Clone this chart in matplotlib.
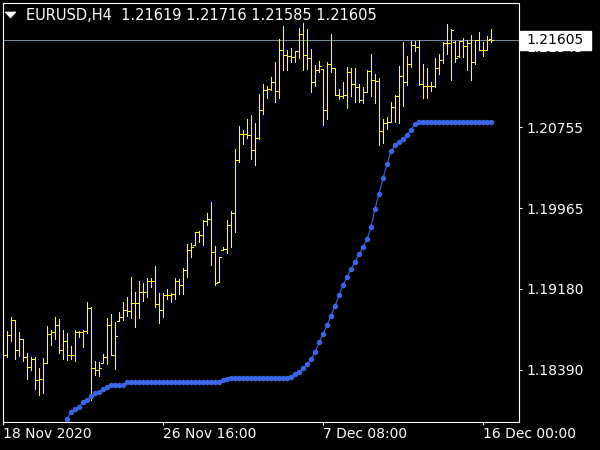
import numpy as np
import matplotlib
matplotlib.use("Agg")
import matplotlib.pyplot as plt
from matplotlib.patches import Rectangle, Polygon

symbol = "EURUSD,H4"

bar_open = [
    1.18585, 1.18536, 1.18731, 1.18877, 1.18585, 1.18692, 1.18517, 1.18419, 1.18497, 1.18292,
    1.18302, 1.18458, 1.18741, 1.18760, 1.18828, 1.18585, 1.18672, 1.18536, 1.18536, 1.18760,
    1.18760, 1.18770, 1.18994, 1.18409, 1.18390, 1.18460, 1.18517, 1.18828, 1.18536, 1.18870,
    1.18906, 1.18974, 1.18965, 1.19043, 1.19043, 1.19150, 1.19150, 1.19257, 1.19257, 1.19033,
    1.18974, 1.19120, 1.19120, 1.19130, 1.19257, 1.19218, 1.19364, 1.19559, 1.19610, 1.19735,
    1.19705, 1.19842, 1.19862, 1.19540, 1.19250, 1.19560, 1.19569, 1.19803, 1.19920, 1.20436,
    1.20690, 1.20690, 1.20680, 1.20534, 1.20651, 1.20923, 1.21118, 1.21128, 1.21196, 1.21108,
    1.21508, 1.21459, 1.21450, 1.21440, 1.21498, 1.21664, 1.21459, 1.21430, 1.21196, 1.21313,
    1.21320, 1.20923, 1.21372, 1.21333, 1.21069, 1.21060, 1.21069, 1.21294, 1.21177, 1.21148,
    1.21021, 1.21099, 1.21304, 1.21216, 1.21206, 1.20719, 1.20797, 1.20806, 1.20953, 1.21060,
    1.21255, 1.21196, 1.21372, 1.21557, 1.21537, 1.21177, 1.21157, 1.21157, 1.21157, 1.21333,
    1.21411, 1.21576, 1.21576, 1.21590, 1.21445, 1.21596, 1.21547, 1.21576, 1.21391, 1.21606,
    1.21508, 1.21508, 1.21619]

bar_high = [
    1.18653, 1.18770, 1.18906, 1.18877, 1.18760, 1.18692, 1.18556, 1.18517, 1.18517, 1.18409,
    1.18507, 1.18819, 1.18780, 1.18906, 1.18887, 1.18780, 1.18750, 1.18624, 1.18780, 1.18770,
    1.18780, 1.19052, 1.19004, 1.18478, 1.18468, 1.18546, 1.18897, 1.18936, 1.18858, 1.18955,
    1.19052, 1.19101, 1.19296, 1.19150, 1.19257, 1.19238, 1.19286, 1.19286, 1.19403, 1.19140,
    1.19140, 1.19179, 1.19140, 1.19286, 1.19277, 1.19384, 1.19618, 1.19627, 1.19735, 1.19744,
    1.19852, 1.19920, 1.20027, 1.19598, 1.19491, 1.19588, 1.19852, 1.19940, 1.20544, 1.20768,
    1.20728, 1.20836, 1.20875, 1.20797, 1.21079, 1.21177, 1.21157, 1.21245, 1.21391, 1.21615,
    1.21742, 1.21508, 1.21528, 1.21498, 1.21723, 1.21771, 1.21713, 1.21518, 1.21362, 1.21401,
    1.21323, 1.21391, 1.21664, 1.21333, 1.21128, 1.21196, 1.21343, 1.21333, 1.21333, 1.21177,
    1.21148, 1.21313, 1.21469, 1.21274, 1.21235, 1.20836, 1.20855, 1.21001, 1.21069, 1.21352,
    1.21586, 1.21450, 1.21596, 1.21596, 1.21606, 1.21372, 1.21333, 1.21196, 1.21430, 1.21469,
    1.21586, 1.21762, 1.21713, 1.21596, 1.21596, 1.21625, 1.21606, 1.21654, 1.21606, 1.21684,
    1.21586, 1.21645, 1.21716]

bar_low = [
    1.18497, 1.18517, 1.18672, 1.18497, 1.18526, 1.18478, 1.18302, 1.18390, 1.18205, 1.18146,
    1.18166, 1.18458, 1.18633, 1.18692, 1.18556, 1.18497, 1.18487, 1.18497, 1.18478, 1.18711,
    1.18614, 1.18750, 1.18097, 1.18341, 1.18331, 1.18458, 1.18448, 1.18536, 1.18400, 1.18867,
    1.18877, 1.18916, 1.18897, 1.18809, 1.18897, 1.19062, 1.19101, 1.19199, 1.19004, 1.18848,
    1.18906, 1.19081, 1.19052, 1.19081, 1.19130, 1.19130, 1.19296, 1.19491, 1.19608, 1.19637,
    1.19608, 1.19803, 1.19413, 1.19218, 1.19247, 1.19559, 1.19530, 1.19588, 1.19735, 1.20417,
    1.20592, 1.20651, 1.20446, 1.20388, 1.20641, 1.20885, 1.21040, 1.21118, 1.21001, 1.21040,
    1.21313, 1.21313, 1.21391, 1.21391, 1.21430, 1.21313, 1.21323, 1.21099, 1.21157, 1.21294,
    1.20777, 1.20836, 1.21294, 1.21069, 1.21031, 1.21040, 1.20943, 1.21060, 1.21001, 1.21001,
    1.20992, 1.21099, 1.21060, 1.20992, 1.20582, 1.20602, 1.20738, 1.20806, 1.20806, 1.20797,
    1.20962, 1.21167, 1.21343, 1.21498, 1.21167, 1.21040, 1.21040, 1.21108, 1.21148, 1.21274,
    1.21382, 1.21469, 1.21216, 1.21391, 1.21440, 1.21440, 1.21313, 1.21216, 1.21372, 1.21508,
    1.21450, 1.21508, 1.21585]

bar_close = [
    1.18536, 1.18731, 1.18877, 1.18585, 1.18692, 1.18517, 1.18419, 1.18497, 1.18292, 1.18302,
    1.18458, 1.18741, 1.18760, 1.18828, 1.18585, 1.18672, 1.18536, 1.18536, 1.18760, 1.18760,
    1.18770, 1.18994, 1.18409, 1.18390, 1.18409, 1.18517, 1.18828, 1.18536, 1.18721, 1.18906,
    1.18974, 1.18965, 1.19043, 1.19043, 1.19150, 1.19150, 1.19257, 1.19257, 1.19033, 1.18974,
    1.19120, 1.19120, 1.19130, 1.19257, 1.19218, 1.19364, 1.19559, 1.19588, 1.19735, 1.19705,
    1.19842, 1.19862, 1.19540, 1.19238, 1.19491, 1.19569, 1.19803, 1.19920, 1.20436, 1.20690,
    1.20690, 1.20680, 1.20534, 1.20651, 1.20923, 1.21118, 1.21128, 1.21196, 1.21108, 1.21508,
    1.21459, 1.21450, 1.21440, 1.21498, 1.21664, 1.21459, 1.21430, 1.21196, 1.21313, 1.21352,
    1.20923, 1.21372, 1.21333, 1.21069, 1.21060, 1.21069, 1.21294, 1.21177, 1.21148, 1.21021,
    1.21099, 1.21304, 1.21216, 1.21206, 1.20719, 1.20797, 1.20806, 1.20953, 1.21060, 1.21255,
    1.21196, 1.21372, 1.21557, 1.21537, 1.21177, 1.21157, 1.21157, 1.21157, 1.21333, 1.21411,
    1.21576, 1.21576, 1.21703, 1.21430, 1.21596, 1.21547, 1.21576, 1.21391, 1.21606, 1.21508,
    1.21508, 1.21606, 1.21605]

# indicator line (first value belongs to bar index 16)
indicator_start = 16
indicator = [
    1.17912, 1.17980, 1.18010, 1.18029, 1.18078, 1.18097, 1.18136, 1.18166, 1.18176, 1.18205,
    1.18224, 1.18244, 1.18244, 1.18244, 1.18244,
    1.18273, 1.18273, 1.18273, 1.18273, 1.18273, 1.18273, 1.18273, 1.18273, 1.18273, 1.18273,
    1.18273, 1.18273, 1.18273, 1.18273, 1.18273, 1.18273, 1.18273, 1.18273, 1.18273, 1.18273,
    1.18273, 1.18273, 1.18273, 1.18273,
    1.18288, 1.18302,
    1.18309, 1.18309, 1.18309, 1.18309, 1.18309, 1.18309, 1.18309, 1.18309, 1.18309, 1.18309,
    1.18309, 1.18309, 1.18309, 1.18309, 1.18309,
    1.18325, 1.18348, 1.18367, 1.18406, 1.18445, 1.18494, 1.18562, 1.18660, 1.18738, 1.18825,
    1.18919, 1.19011, 1.19118, 1.19215, 1.19293, 1.19371, 1.19439, 1.19517, 1.19588, 1.19664,
    1.19780, 1.19962, 1.20108, 1.20258, 1.20394, 1.20521, 1.20580, 1.20609, 1.20644, 1.20677,
    1.20732, 1.20784,
    1.20807, 1.20807, 1.20807, 1.20807, 1.20807, 1.20807, 1.20807, 1.20807, 1.20807, 1.20807,
    1.20807, 1.20807, 1.20807, 1.20807, 1.20807, 1.20807, 1.20807, 1.20807, 1.20807]

x_tick_bars = [0, 40, 80, 120]
x_tick_labels = ["18 Nov 2020", "26 Nov 16:00", "7 Dec 08:00", "16 Dec 00:00"]
y_ticks = [1.18390, 1.19180, 1.19965, 1.20755, 1.21545]

BAR_COLOR = "#ffff00"
LINE_COLOR = "#3a66e6"
FG = "white"
PX = 0.72  # one pixel in points at 100 dpi

W, H = 600, 450
fig = plt.figure(figsize=(W / 100, H / 100), dpi=100, facecolor="black")
ax = fig.add_axes([2.5 / W, 28.5 / H, 516 / W, 419 / H])
ax.set_facecolor("black")

n = len(bar_close)
x = np.arange(n)

# current price line (behind bars)
ax.axhline(bar_close[-1], color="#778899", lw=PX, zorder=1)

# OHLC bars
ax.vlines(x, bar_low, bar_high, color=BAR_COLOR, lw=PX, zorder=2, antialiased=False)
ax.hlines(bar_open, x - 0.5, x, color=BAR_COLOR, lw=PX, zorder=2, antialiased=False)
ax.hlines(bar_close, x, x + 0.5, color=BAR_COLOR, lw=PX, zorder=2, antialiased=False)

# indicator
xi = x[indicator_start:indicator_start + len(indicator)]
ax.plot(xi, indicator, color=LINE_COLOR, lw=0.8, marker="o", ms=3.9,
        mfc=LINE_COLOR, mec=LINE_COLOR, mew=0, zorder=3)

ax.set_xlim(-0.125, 128.875)
ax.set_ylim(1.17888, 1.21971)

for s in ax.spines.values():
    s.set_color(FG)
    s.set_linewidth(0.8)

ax.yaxis.tick_right()
ax.set_yticks(y_ticks)
ax.set_yticklabels([f"{v:.5f}" for v in y_ticks])
ax.set_xticks(x_tick_bars)
ax.set_xticklabels(x_tick_labels, ha="left")
ax.tick_params(axis="both", colors=FG, labelcolor=FG, labelsize=10,
               length=2.5, width=0.8, direction="out")
ax.tick_params(axis="y", pad=3.5)
ax.tick_params(axis="x", pad=1.5)

# current price label box
ytrans = ax.get_yaxis_transform()
box_h = 19 / 10262.0
ax.add_patch(Rectangle((1 + 1.5 / 516, bar_close[-1] - box_h / 2), 71 / 516, box_h,
                       transform=ytrans, facecolor="white", edgecolor="white",
                       clip_on=False, zorder=10))
ax.text(1 + 37 / 516, bar_close[-1], f"{bar_close[-1]:.5f}", transform=ytrans,
        ha="center", va="center", color="black", fontsize=10, zorder=11, clip_on=False)

# header
fig.patches.append(Polygon([[5 / W, 1 - 12 / H], [16 / W, 1 - 12 / H], [10.5 / W, 1 - 18 / H]],
                           closed=True, transform=fig.transFigure, facecolor=FG, edgecolor=FG,
                           lw=0.5))
header = f"{symbol}  {bar_open[-1]:.5f} {bar_high[-1]:.5f} {bar_low[-1]:.5f} {bar_close[-1]:.5f}"
fig.text(26 / W, 1 - 15.5 / H, header, color=FG, fontsize=10.5, ha="left", va="center")

fig.savefig("out.png", dpi=100, facecolor="black")
